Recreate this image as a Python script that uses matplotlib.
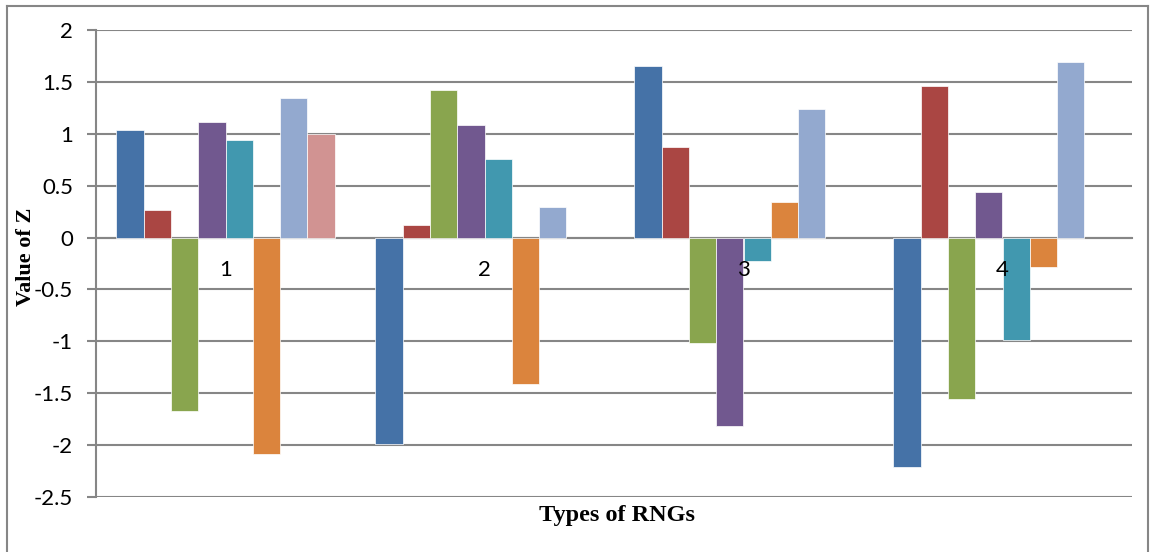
import numpy as np
import matplotlib
matplotlib.use("Agg")
import matplotlib.pyplot as plt
from matplotlib.lines import Line2D

# values
categories = ["1", "2", "3", "4"]
series_colors = ["#4572A7", "#AA4643", "#89A54E", "#71588F",
                 "#4198AF", "#DB843D", "#93A9CF", "#D19392"]
s1 = [1.04, -1.99, 1.65, -2.21]
s2 = [0.27, 0.12, 0.87, 1.46]
s3 = [-1.67, 1.42, -1.02, -1.56]
s4 = [1.11, 1.08, -1.82, 0.44]
s5 = [0.94, 0.76, -0.23, -0.99]
s6 = [-2.09, -1.41, 0.34, -0.28]
s7 = [1.34, 0.29, 1.24, 1.69]
s8 = [1.00, np.nan, np.nan, np.nan]
all_series = [s1, s2, s3, s4, s5, s6, s7, s8]
y_ticks = [2, 1.5, 1, 0.5, 0, -0.5, -1, -1.5, -2, -2.5]

fig = plt.figure(figsize=(11.52, 5.52), dpi=100)
ax = fig.add_axes([96 / 1152, 1 - 497 / 552, (1132 - 96) / 1152, (497 - 30) / 552])

grid_col = "#868686"
x = np.arange(len(categories))
w = 1 / 9.5
for i, (vals, col) in enumerate(zip(all_series, series_colors)):
    ax.bar(x + (i - 3.5) * w, vals, width=w, color=col,
           edgecolor="white", linewidth=0.5, zorder=3)

ax.set_xlim(-0.5, 3.5)
ax.set_ylim(-2.5, 2)
ax.set_yticks(y_ticks)
ax.set_yticklabels([f"{t:g}" for t in y_ticks], fontsize=16, family="Lato")
ax.yaxis.grid(True, color=grid_col, linewidth=1.5)
ax.set_axisbelow(True)
ax.tick_params(axis="y", length=6.5, width=1.5, color=grid_col, pad=10)

# category axis crosses at zero, labels sit under the zero line
ax.spines["bottom"].set_position(("data", 0))
ax.spines["bottom"].set_color(grid_col)
ax.spines["bottom"].set_linewidth(1.5)
ax.set_xticks(x)
ax.set_xticklabels(categories, fontsize=16, family="Lato")
ax.tick_params(axis="x", length=0, pad=16)
ax.xaxis.set_zorder(4)
ax.spines["left"].set_color(grid_col)
ax.spines["left"].set_linewidth(1.5)
ax.spines["top"].set_visible(False)
ax.spines["right"].set_visible(False)

fig.text(26 / 1152, 1 - 257 / 552, "Value of Z", rotation=90, ha="center", va="center",
         fontsize=16, fontweight="bold", family="Liberation Serif")
fig.text(617 / 1152, 1 - 515 / 552, "Types of RNGs", ha="center", va="center",
         fontsize=17.5, fontweight="bold", family="Liberation Serif")

# chart frame
bx0, bx1, by0 = 7 / 1152, 1148 / 1152, 1 - 6 / 552
for xs, ys in [([bx0, bx0], [0, by0]), ([bx0, bx1], [by0, by0]), ([bx1, bx1], [by0, 0])]:
    fig.add_artist(Line2D(xs, ys, color=grid_col, linewidth=1.5, transform=fig.transFigure))

fig.savefig("out.png", dpi=100)
